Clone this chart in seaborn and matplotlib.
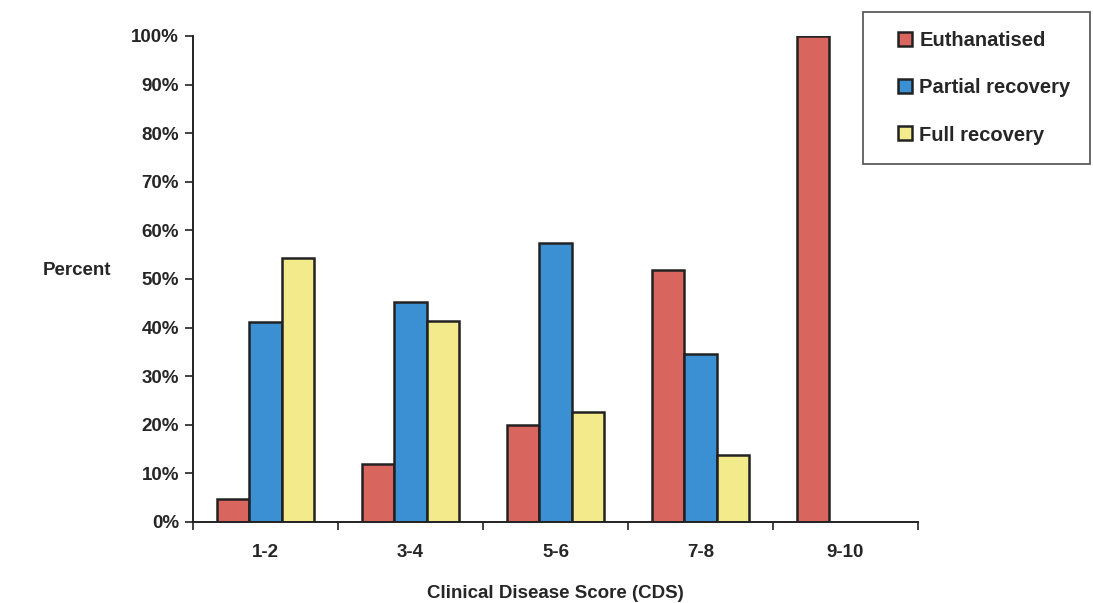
import matplotlib
matplotlib.use("Agg")
import matplotlib.pyplot as plt
from matplotlib.lines import Line2D
import seaborn as sns
import pandas as pd

# Outcome by clinical disease score band
categories = ["1-2", "3-4", "5-6", "7-8", "9-10"]
euthanatised = [4.8, 12.0, 19.9, 51.8, 100.0]
partial_recovery = [41.2, 45.3, 57.4, 34.6, None]
full_recovery = [54.4, 41.4, 22.7, 13.7, None]
series_names = ["Euthanatised", "Partial recovery", "Full recovery"]
y_ticks = list(range(0, 101, 10))

rows = []
for name, vals in zip(series_names, [euthanatised, partial_recovery, full_recovery]):
    for cat, v in zip(categories, vals):
        if v is not None:
            rows.append({"CDS": cat, "Outcome": name, "Percent": v})
df = pd.DataFrame(rows)

sns.set_style("white")
plt.rcParams["font.family"] = ["Liberation Sans", "DejaVu Sans"]
plt.rcParams["font.weight"] = "bold"
ink = "#262626"
plt.rcParams["text.color"] = ink
plt.rcParams["axes.labelcolor"] = ink
plt.rcParams["xtick.color"] = ink
plt.rcParams["ytick.color"] = ink

palette = {"Euthanatised": "#D8665E", "Partial recovery": "#3A90D2", "Full recovery": "#F3EA8C"}
edge = "#222222"

fig = plt.figure(figsize=(10.93, 6.03), dpi=100)
ax = fig.add_axes([193 / 1093, 1 - 522 / 603, (918 - 193) / 1093, (522 - 36) / 603])

sns.barplot(data=df, x="CDS", y="Percent", hue="Outcome", order=categories,
            hue_order=series_names, palette=palette, width=0.67,
            edgecolor=edge, linewidth=1.8, saturation=1, legend=False, ax=ax)

ax.set_xlim(-0.5, len(categories) - 0.5)
ax.set_ylim(0, 100)
ax.set_yticks(y_ticks)
ax.set_yticklabels([f"{t}%" for t in y_ticks], fontsize=13.5, fontweight="bold")

# category labels centred, tick marks on the boundaries
ax.set_xticks(range(len(categories)))
ax.set_xticklabels(categories, fontsize=13.5, fontweight="bold")
ax.tick_params(axis="x", which="major", bottom=True, length=0, pad=16)
ax.set_xticks([i - 0.5 for i in range(len(categories) + 1)], minor=True)
ax.tick_params(axis="x", which="minor", bottom=True, direction="out", length=6,
               width=1.2, color=edge)
ax.tick_params(axis="y", left=True, direction="out", length=6, width=1.2,
               color=edge, pad=4)

for side in ["top", "right"]:
    ax.spines[side].set_visible(False)
for side in ["left", "bottom"]:
    ax.spines[side].set_color(edge)
    ax.spines[side].set_linewidth(1.4)

ax.set_xlabel("Clinical Disease Score (CDS)", fontsize=13.5, fontweight="bold")
ax.xaxis.set_label_coords(0.5, -0.130)
ax.set_ylabel("Percent", fontsize=13.5, fontweight="bold", rotation=0)
ax.yaxis.set_label_coords(-0.16, 0.5)

handles = [Line2D([], [], linestyle="none", marker="s", markersize=10.5,
                  markerfacecolor=palette[n], markeredgecolor=edge,
                  markeredgewidth=1.8, label=n) for n in series_names]
leg = ax.legend(handles=handles, loc="upper left",
                bbox_to_anchor=(863 / 1093, 1 - 12 / 603),
                bbox_transform=fig.transFigure, frameon=True, fancybox=False,
                fontsize=14.5, handlelength=2.3, handletextpad=-0.45,
                labelspacing=1.4, borderpad=0.95, borderaxespad=0)
leg.get_frame().set_edgecolor(edge)
leg.get_frame().set_linewidth(1.2)
for t in leg.get_texts():
    t.set_fontweight("bold")

fig.savefig("out.png", dpi=100)
